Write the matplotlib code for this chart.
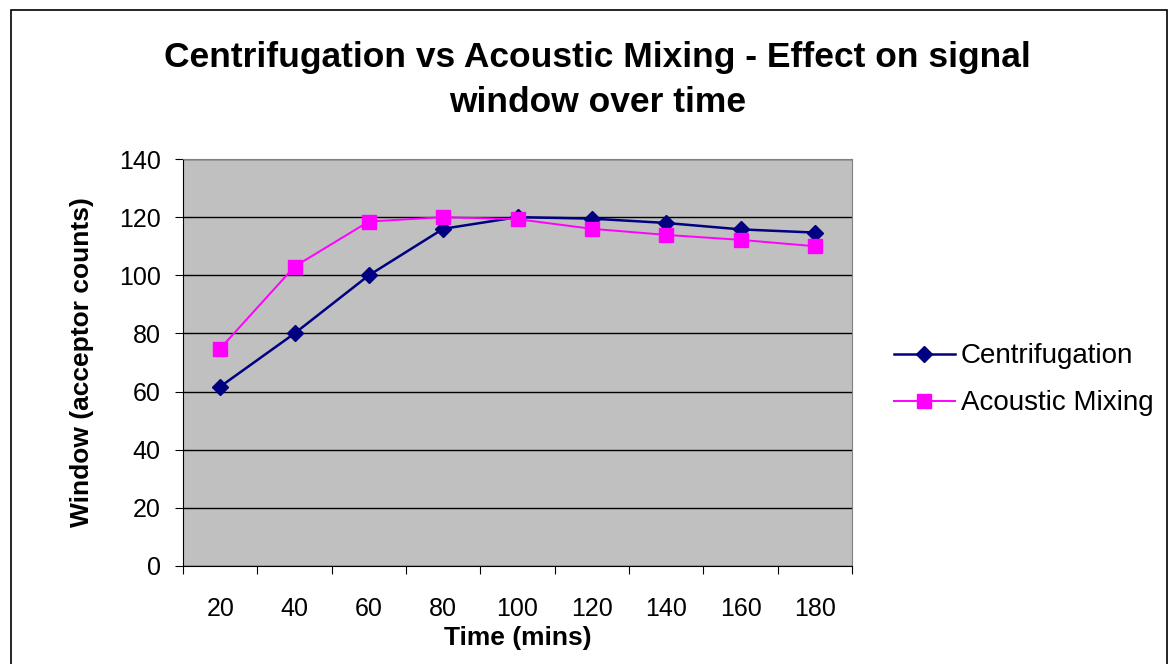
import matplotlib.pyplot as plt
from matplotlib.patches import Rectangle

times = [20, 40, 60, 80, 100, 120, 140, 160, 180]
centrifugation = [61.7, 80, 100, 116, 120, 119.5, 118, 115.8, 114.7]
acoustic = [74.8, 103, 118.5, 120, 119.3, 116, 113.9, 112.2, 110]

plt.rcParams['font.family'] = ['Liberation Sans', 'DejaVu Sans']

fig = plt.figure(figsize=(11.71, 6.64), dpi=100)
ax = fig.add_axes([0.1563, 0.1476, 0.5713, 0.6129])

# outer chart border
fig.patches.append(Rectangle((0.009, -0.01), 0.988, 0.995, transform=fig.transFigure,
                             fill=False, edgecolor='black', linewidth=1.2))

x = list(range(len(times)))
ax.plot(x, centrifugation, color='#000080', marker='D', markersize=8.5,
        linewidth=1.8, label='Centrifugation', zorder=3)
ax.plot(x, acoustic, color='#FF00FF', marker='s', markersize=10.5,
        linewidth=1.4, label='Acoustic Mixing', zorder=3)

ax.set_facecolor('#C0C0C0')
ax.set_xlim(-0.5, len(times) - 0.5)
ax.set_ylim(0, 140)
ax.set_yticks(range(0, 141, 20))
ax.yaxis.grid(True, color='black', linewidth=1)
ax.set_axisbelow(True)

# category boundaries get tick marks, centers get labels
ax.set_xticks([i - 0.5 for i in range(len(times) + 1)])
ax.set_xticklabels([])
ax.set_xticks(x, minor=True)
ax.set_xticklabels([str(t) for t in times], minor=True)
ax.tick_params(axis='x', which='major', length=6, color='black', direction='out')
ax.tick_params(axis='x', which='minor', length=0, pad=22, labelsize=18)
ax.tick_params(axis='y', length=6, direction='out', labelsize=18, pad=10)

for side in ['top', 'right']:
    ax.spines[side].set_color('#808080')
for side in ['left', 'bottom']:
    ax.spines[side].set_color('black')

ax.set_xlabel('Time (mins)', fontsize=19, fontweight='bold', labelpad=4)
ax.set_ylabel('Window (acceptor counts)', fontsize=19, fontweight='bold', labelpad=18)

fig.text(0.51, 0.880, 'Centrifugation vs Acoustic Mixing - Effect on signal\nwindow over time',
         ha='center', va='center', fontsize=25.5, fontweight='bold', linespacing=1.45)

fig.legend(loc='center left', bbox_to_anchor=(0.742, 0.428), frameon=False,
           fontsize=20, handlelength=2.2, handletextpad=0.2, labelspacing=0.75)

fig.savefig('out.png', dpi=100)
